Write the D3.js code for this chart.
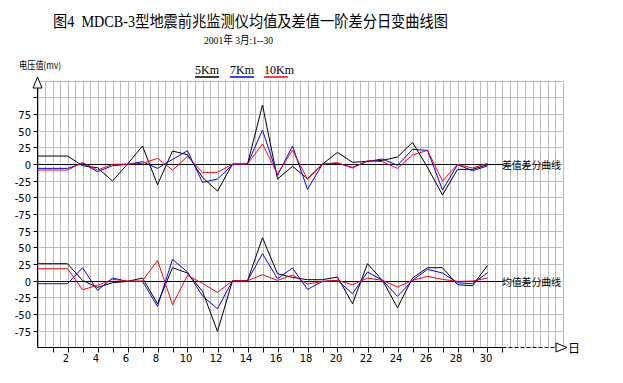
<!DOCTYPE html>
<html><head><meta charset="utf-8">
<script src="https://cdn.jsdelivr.net/npm/d3@7"></script>
<style>
html,body{margin:0;padding:0;background:#fff;}
svg{display:block;}
</style></head>
<body>
<svg id="chart" width="623" height="383"></svg>
<script>
// ---- data ----
const days = [0,1,2,3,4,5,6,7,8,9,10,11,12,13,14,15,16,17,18,19,20,21,22,23,24,25,26,27,28,29,30];
const seriesNames = ["5Km","7Km","10Km"];
const seriesColors = ["#000000","#0000ff","#ff0000"];
// 差值差分 (upper panel)
const diff5  = [12,12,12,-2.5,-5.5,-25.5,0,27,-31,19.5,14,-20,-40.5,0,0,88.5,-22.5,-3.5,-22,0,17.5,2.5,4,5.5,10.5,32.5,-5,-46.5,-8,-8,-1];
const diff7  = [-6.5,-6.5,-6.5,1,-11.5,-2.5,-0.5,3.5,-6.5,7,20,-27.5,-22.5,-1,0,51,-17,27,-38,0,1,-5,4,7.5,-2,22,20.5,-39,-1,-10,-3];
const diff10 = [-9,-9,-9,2.5,-9,-0.5,0,1,8.5,-9,11.5,-12.5,-12.5,0,0,30,-15,21,-23,0,2,-6,5,3.5,-6.5,13.5,20.5,-25.5,-0.5,-6,1];
// 均值差分 (lower panel)
const mean5  = [25.5,25.5,25.5,0.5,-10,-3,-1,4,-34.5,19.5,11.5,-16,-76,0,0,64.5,10.5,5,1.5,1.5,5.5,-34.5,25.5,0.5,-40.5,4,19.5,19.5,-6,-7.5,23];
const mean7  = [-4.5,-4.5,-4.5,19.5,-14.5,4,-1,-1,-38.5,32,13,-23,-42,0,0,40.5,3,19,-13,-1,0.5,-19.5,13,0.5,-23.5,0.5,17,11.5,-3,-4.5,12];
const mean10 = [18,18,18,-13.5,-7,2,-0.5,-0.5,30.5,-36,8,-4,-17.5,0,0,9,0.5,8.5,-5,-1,0.5,-6,4,0.5,-9.5,0.5,6.5,2,-1,-0.5,4];
const upperTicks = [100,75,50,25,0,-25,-50,-75];
const lowerTicks = [75,50,25,0,-25,-50,-75];
const xTickDays = [1,2,3,4,5,6,7,8,9,10,11,12,13,14,15,16,17,18,19,20,21,22,23,24,25,26,27,28,29,30,31];
const xLabelDays = [2,4,6,8,10,12,14,16,18,20,22,24,26,28,30];
const titleText = "图4\u00a0\u00a0MDCB-3型地震前兆监测仪均值及差值一阶差分日变曲线图";
const subtitleText = "2001年\u00a03月:1--30";
const yAxisTitle = "电压值(mv)";
const upperLabel = "差值差分曲线";
const lowerLabel = "均值差分曲线";
const xAxisUnit = "日";

// ---- layout ----
const svg = d3.select("#chart");
const left = 37.5, right = 562.5;
const gridTop = 80.7, gridMid = 230.7, gridBottom = 347.4;
const x = d3.scaleLinear().domain([0,35]).range([left,right]);
const yU = d3.scaleLinear().domain([125,-100]).range([gridTop,gridMid]);
const yL = d3.scaleLinear().domain([75,-100]).range([gridMid,gridBottom]);

// grid
const g = svg.append("g");
const vLines = d3.range(0,35.01,0.5);
g.selectAll("line.v").data(vLines).join("line")
  .attr("x1",d=>Math.round(x(d))+0.5).attr("x2",d=>Math.round(x(d))+0.5)
  .attr("y1",gridTop).attr("y2",gridBottom)
  .attr("stroke","#bcbcbc").attr("stroke-width",1);
const hU = d3.range(125,-100,-25);
g.selectAll("line.hu").data(hU).join("line")
  .attr("x1",left).attr("x2",right)
  .attr("y1",d=>Math.round(yU(d))+0.5).attr("y2",d=>Math.round(yU(d))+0.5)
  .attr("stroke","#bcbcbc");
const hL = d3.range(75,-100,-25);
g.selectAll("line.hl").data(hL).join("line")
  .attr("x1",left).attr("x2",right)
  .attr("y1",d=>Math.round(yL(d))+0.5).attr("y2",d=>Math.round(yL(d))+0.5)
  .attr("stroke","#bcbcbc");

// zero lines
svg.append("line").attr("x1",left).attr("x2",x(31)+1)
  .attr("y1",Math.round(yU(0))+0.5).attr("y2",Math.round(yU(0))+0.5).attr("stroke","#000");
svg.append("line").attr("x1",left).attr("x2",x(31)+1)
  .attr("y1",Math.round(yL(0))+0.5).attr("y2",Math.round(yL(0))+0.5).attr("stroke","#000");

// series
const upperData = [diff5,diff7,diff10];
const lowerData = [mean5,mean7,mean10];
const lineU = d3.line().x((d,i)=>x(days[i])).y(d=>yU(d));
const lineL = d3.line().x((d,i)=>x(days[i])).y(d=>yL(d));
upperData.forEach((s,k)=>{
  svg.append("path").attr("d",lineU(s)).attr("fill","none").attr("stroke",seriesColors[k]).attr("stroke-width",1);
});
lowerData.forEach((s,k)=>{
  svg.append("path").attr("d",lineL(s)).attr("fill","none").attr("stroke",seriesColors[k]).attr("stroke-width",1);
});

// y axis
svg.append("line").attr("x1",left).attr("x2",left).attr("y1",87).attr("y2",gridBottom).attr("stroke","#000");
svg.append("path").attr("d",`M${left},77 L${left-4.5},88 L${left+4.5},88 Z`).attr("fill","#fff").attr("stroke","#000");
const tickFont = "DejaVu Sans, Verdana, sans-serif";
upperTicks.forEach(t=>{
  const yy = Math.round(yU(t))+0.5;
  svg.append("line").attr("x1",left-4).attr("x2",left).attr("y1",yy).attr("y2",yy).attr("stroke","#000");
  if (t!==100) svg.append("text").attr("x",31).attr("y",yy+4).attr("text-anchor","end")
    .attr("font-family",tickFont).attr("font-size",10).text(t);
});
lowerTicks.forEach(t=>{
  const yy = Math.round(yL(t))+0.5;
  svg.append("line").attr("x1",left-4).attr("x2",left).attr("y1",yy).attr("y2",yy).attr("stroke","#000");
  svg.append("text").attr("x",31).attr("y",yy+4).attr("text-anchor","end")
    .attr("font-family",tickFont).attr("font-size",10).text(t);
});
svg.append("text").attr("x",19).attr("y",69).attr("font-family","Noto Sans CJK SC, sans-serif")
  .attr("font-size",10).attr("textLength",42).attr("lengthAdjust","spacingAndGlyphs").text(yAxisTitle);

// x axis
const yb = Math.round(gridBottom)+0.5;
svg.append("line").attr("x1",left).attr("x2",x(31)).attr("y1",yb).attr("y2",yb).attr("stroke","#000");
svg.append("line").attr("x1",x(31)).attr("x2",556).attr("y1",yb).attr("y2",yb).attr("stroke","#000").attr("stroke-dasharray","4,2");
svg.selectAll("line.xt").data(xTickDays).join("line")
  .attr("x1",d=>Math.round(x(d))+0.5).attr("x2",d=>Math.round(x(d))+0.5)
  .attr("y1",yb).attr("y2",yb+5).attr("stroke","#000");
svg.selectAll("text.xl").data(xLabelDays).join("text")
  .attr("x",d=>x(d)-1.5).attr("y",362).attr("text-anchor","middle")
  .attr("font-family",tickFont).attr("font-size",10).text(d=>d);
svg.append("path").attr("d",`M556,${yb-4.5} L556,${yb+4.5} L567,${yb} Z`).attr("fill","#fff").attr("stroke","#000");
svg.append("text").attr("x",568).attr("y",yb+5).attr("font-family","Noto Sans CJK SC, sans-serif")
  .attr("font-size",12).text(xAxisUnit);

// right labels
svg.append("text").attr("x",502).attr("y",Math.round(yU(0))+4.5).attr("font-family","Noto Sans CJK SC, sans-serif")
  .attr("font-size",10).attr("textLength",59).attr("lengthAdjust","spacing").text(upperLabel);
svg.append("text").attr("x",502).attr("y",Math.round(yL(0))+4.5).attr("font-family","Noto Sans CJK SC, sans-serif")
  .attr("font-size",10).attr("textLength",59).attr("lengthAdjust","spacing").text(lowerLabel);

// title
svg.append("text").attr("x",53).attr("y",27).attr("font-family","Liberation Serif, Noto Sans CJK SC, serif")
  .attr("font-size",16).attr("textLength",395).attr("lengthAdjust","spacingAndGlyphs").text(titleText);
svg.append("text").attr("x",204).attr("y",44).attr("font-family","Liberation Serif, Noto Sans CJK SC, serif")
  .attr("font-size",11).attr("textLength",69).attr("lengthAdjust","spacingAndGlyphs").text(subtitleText);

// legend
const legX = [195,230,264];
const legW = [24,24,24];
seriesNames.forEach((n,k)=>{
  svg.append("text").attr("x",legX[k]).attr("y",74).attr("font-family","Liberation Serif, serif")
    .attr("font-size",12).text(n);
  svg.append("line").attr("x1",legX[k]).attr("x2",legX[k]+legW[k]).attr("y1",77).attr("y2",77)
    .attr("stroke",seriesColors[k]).attr("stroke-width",1.5);
});
</script>
</body></html>
